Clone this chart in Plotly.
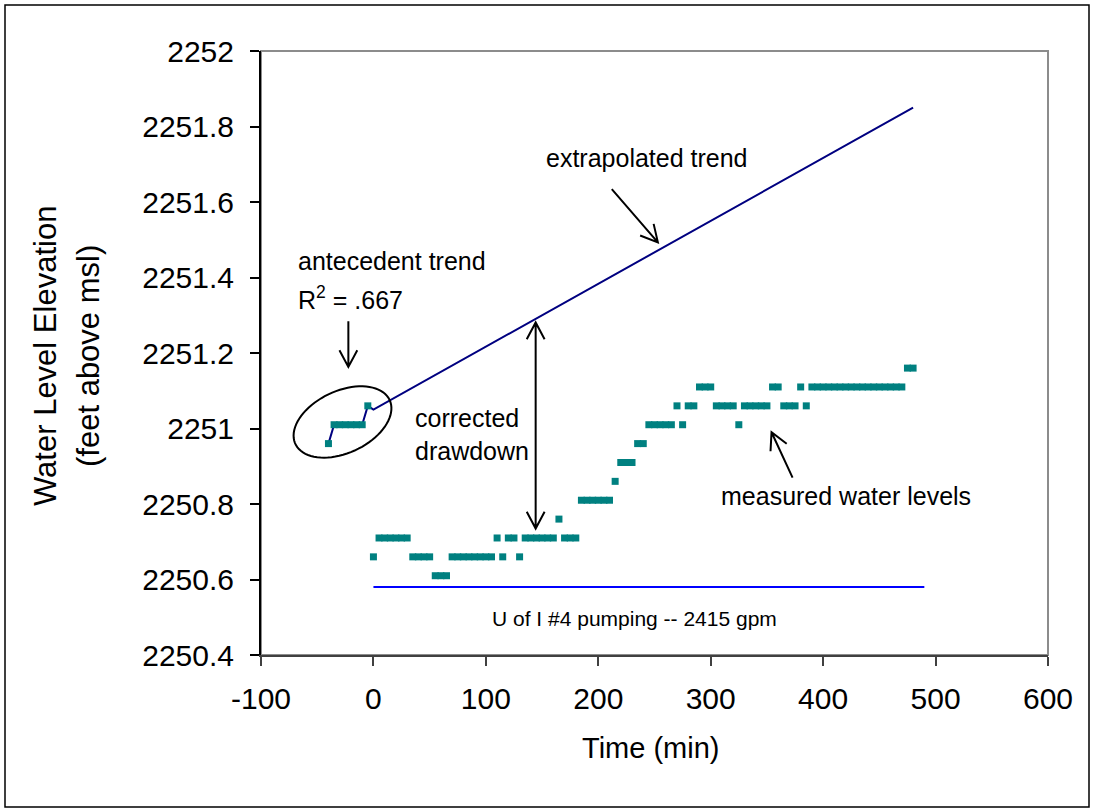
import numpy as np
import plotly.graph_objects as go

# ---------------- data ----------------
# antecedent (pre-pumping) readings
early_time = [-40, -35, -30, -25, -20, -15, -10, -5]
early_level = [2250.96, 2251.01, 2251.01, 2251.01, 2251.01, 2251.01, 2251.01, 2251.06]

# measured water levels during pumping (every 5 min)
pump_time = list(range(0, 485, 5))
pump_level = (
    [2250.66]
    + [2250.71] * 6          # 5-30
    + [2250.66] * 4          # 35-50
    + [2250.61] * 3          # 55-65
    + [2250.66] * 8          # 70-105
    + [2250.71]              # 110
    + [2250.66]              # 115
    + [2250.71] * 2          # 120-125
    + [2250.66]              # 130
    + [2250.71] * 6          # 135-160
    + [2250.76]              # 165
    + [2250.71] * 3          # 170-180
    + [2250.81] * 6          # 185-210
    + [2250.86]              # 215
    + [2250.91] * 3          # 220-230
    + [2250.96] * 2          # 235-240
    + [2251.01] * 5          # 245-265
    + [2251.06]              # 270
    + [2251.01]              # 275
    + [2251.06] * 2          # 280-285
    + [2251.11] * 3          # 290-300
    + [2251.06] * 4          # 305-320
    + [2251.01]              # 325
    + [2251.06] * 5          # 330-350
    + [2251.11] * 2          # 355-360
    + [2251.06] * 3          # 365-375
    + [2251.11]              # 380
    + [2251.06]              # 385
    + [2251.11] * 17         # 390-470
    + [2251.16] * 2          # 475-480
)

# extrapolated antecedent trend
trend_time = [0, 480]
trend_level = [2251.05, 2251.85]

# pumping period indicator line
pumping_time = [0, 490]
pumping_level = [2250.58, 2250.58]

y_tickvals = [2250.4, 2250.6, 2250.8, 2251.0, 2251.2, 2251.4, 2251.6, 2251.8, 2252.0]
y_ticktext = ["2250.4", "2250.6", "2250.8", "2251", "2251.2", "2251.4", "2251.6", "2251.8", "2252"]
x_tickvals = [-100, 0, 100, 200, 300, 400, 500, 600]
x_ticktext = ["-100", "0", "100", "200", "300", "400", "500", "600"]

# ---------------- layout constants ----------------
W, H = 1093, 811
ML, MR, MT, MB = 261, 45, 51, 156
XR = [-100, 600]
YR = [2250.4, 2252.0]
PW, PH = W - ML - MR, H - MT - MB
pxx = PW / (XR[1] - XR[0])
pxy = PH / (YR[1] - YR[0])

FONT = "Arial, Liberation Sans, sans-serif"
TEAL = "#008080"
NAVY = "#000080"

fig = go.Figure()

# antecedent trend connecting line + extrapolated trend
fig.add_trace(go.Scatter(
    x=early_time + trend_time, y=early_level + trend_level,
    mode="lines", line=dict(color=NAVY, width=2), hoverinfo="skip", showlegend=False))

# pumping line
fig.add_trace(go.Scatter(
    x=pumping_time, y=pumping_level, mode="lines",
    line=dict(color="#0000FF", width=2), showlegend=False))

# measured points
fig.add_trace(go.Scatter(
    x=early_time + pump_time, y=early_level + pump_level, mode="markers",
    marker=dict(symbol="square", size=7, color=TEAL, line=dict(width=0)),
    showlegend=False))

# ---------------- ellipse around antecedent data ----------------
cx_px, cy_px = 342.5, 422.0
a_px, b_px, rot = 52.0, 31.0, np.deg2rad(25)
tc = XR[0] + (cx_px - ML) / pxx
yc = YR[1] - (cy_px - MT) / pxy
phi = np.linspace(0, 2 * np.pi, 80)
dx = a_px * np.cos(phi) * np.cos(rot) - b_px * np.sin(phi) * np.sin(rot)
dy = a_px * np.cos(phi) * np.sin(rot) + b_px * np.sin(phi) * np.cos(rot)
ex = tc + dx / pxx
ey = yc + dy / pxy
path = "M " + " L ".join(f"{x:.3f},{y:.5f}" for x, y in zip(ex, ey)) + " Z"
shapes = [
    dict(type="path", path=path, xref="x", yref="y",
         line=dict(color="black", width=2)),
    # plot-area border (top / right gray)
    dict(type="rect", xref="paper", yref="paper", x0=0, x1=1, y0=0, y1=1,
         line=dict(color="#8c8c8c", width=2), layer="below"),
    # outer frame
    dict(type="rect", xref="paper", yref="paper",
         x0=(5 - ML) / PW, x1=(1089 - ML) / PW,
         y0=(MT + PH - 807) / PH, y1=(MT + PH - 5) / PH,
         line=dict(color="black", width=1.5)),
]


# ---------------- arrows (open V heads) ----------------
def head_path(hx, hy, tx, ty, arm=19.0, half=np.deg2rad(28)):
    # direction from head back toward tail, in pixel space (y up)
    vx, vy = (tx - hx) * pxx, (ty - hy) * pxy
    n = np.hypot(vx, vy)
    ux, uy = vx / n, vy / n
    pts = []
    for s in (1, -1):
        c, si = np.cos(s * half), np.sin(s * half)
        rx, ry = ux * c - uy * si, ux * si + uy * c
        pts.append((hx + rx * arm / pxx, hy + ry * arm / pxy))
    return (f"M {pts[0][0]:.4f},{pts[0][1]:.5f} L {hx:.4f},{hy:.5f} "
            f"L {pts[1][0]:.4f},{pts[1][1]:.5f}")


def arrow(hx, hy, tx, ty, both=False):
    p = f"M {tx:.4f},{ty:.5f} L {hx:.4f},{hy:.5f} " + head_path(hx, hy, tx, ty)
    if both:
        p += " " + head_path(tx, ty, hx, hy)
    shapes.append(dict(type="path", path=p, xref="x", yref="y",
                       line=dict(color="black", width=2)))


arrow(253, 2251.493, 212, 2251.634)
arrow(-22.3, 2251.163, -22.3, 2251.284)
arrow(144.3, 2250.735, 144.3, 2251.281, both=True)
arrow(354.1, 2250.99, 372.8, 2250.87)

# ---------------- text annotations ----------------
ann = []


def text(x, y, s, size=25, xanchor="center", align="center", xref="x", yref="y", angle=0):
    ann.append(dict(x=x, y=y, text=s, showarrow=False, xref=xref, yref=yref,
                    xanchor=xanchor, yanchor="middle", align=align, textangle=angle,
                    font=dict(family=FONT, size=size, color="black")))


text(243, 2251.716, "extrapolated trend")
text(-69, 2251.443, "antecedent trend", xanchor="left", align="left")
text(-69, 2251.345, "R<sup>2</sup> = .667", xanchor="left", align="left")
text(35.6, 2250.985, "corrected<br>drawdown", xanchor="left", align="left")
text(420, 2250.82, "measured water levels")
text(232, 2250.496, "U of I #4 pumping -- 2415 gpm", size=21)

# axis titles
text((45 - ML) / PW, (MT + PH - 356) / PH, "Water Level Elevation", size=31,
     xref="paper", yref="paper", angle=-90)
text((88 - ML) / PW, (MT + PH - 356) / PH, "(feet above msl)", size=31,
     xref="paper", yref="paper", angle=-90)
text((650 - ML) / PW, (MT + PH - 748) / PH, "Time (min)", size=29,
     xref="paper", yref="paper")

fig.update_layout(
    width=W, height=H,
    margin=dict(l=ML, r=MR, t=MT, b=MB, pad=0),
    paper_bgcolor="white", plot_bgcolor="white",
    font=dict(family=FONT, color="black"),
    shapes=shapes, annotations=ann,
    xaxis=dict(range=XR, tickvals=x_tickvals, ticktext=x_ticktext, showgrid=False,
               zeroline=False, showline=True, linecolor="#404040", linewidth=2,
               ticks="outside", ticklen=9, tickwidth=2, tickcolor="#404040",
               tickfont=dict(size=30, family=FONT), ticklabelstandoff=7),
    yaxis=dict(range=YR, tickvals=y_tickvals, ticktext=y_ticktext, showgrid=False,
               zeroline=False, showline=True, linecolor="black", linewidth=2,
               ticks="outside", ticklen=9, tickwidth=1.5, tickcolor="black",
               tickfont=dict(size=30, family=FONT), ticklabelstandoff=10),
)

fig.write_html("out.html")
